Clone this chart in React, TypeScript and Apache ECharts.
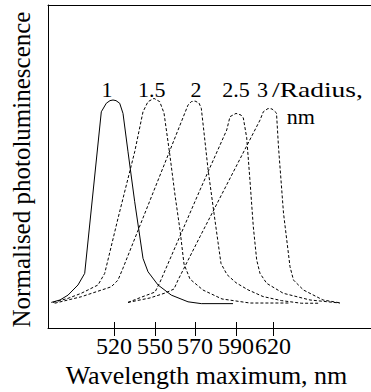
import React, { useEffect, useRef } from "react";
import * as echarts from "echarts";

// x positions are in axis position units (the wavelength axis is drawn with irregular tick spacing)
const tickPositions = [66, 107, 147, 188, 225];
const tickLabels = ["520", "550", "570", "590", "620"];

const radiusLabels = ["1", "1.5", "2", "2.5", "3"];

const curveR1 = [
  [3.3, 0.3], [12, 1.5], [20, 3.9], [30, 8.9], [36.7, 14.6], [53.3, 94.2],
  [58.3, 98.4], [62, 99.7], [65, 100], [68, 99.7], [71.7, 98.4], [75, 93.4],
  [80, 74.5], [86.7, 49.9], [95, 22.0], [100, 15.4], [110, 8.9], [123.3, 3.9],
  [140, 0.6], [153.3, -0.3], [185, -0.3],
];
const curveR15 = [
  [5, 0.3], [20, 2.3], [33.3, 4.8], [50, 8.9], [56.7, 14.6], [70, 41.7],
  [86.7, 74.5], [95, 94.2], [100, 99.2], [106, 100.8], [111.7, 99.2], [116, 93.6],
  [122, 72.4], [127, 53.2], [132, 36.0], [136, 19.2], [142, 11.8], [155, 6.4],
  [174, 2.0], [202, 0], [242, 0],
];
const curveR2 = [
  [6.7, -0.1], [33.3, 3.1], [63.3, 8.0], [70, 11.3], [75, 17.2], [140, 97.5],
  [143.3, 99.2], [147, 99.5], [151, 98.5], [153.3, 95.9], [156, 84], [160, 66],
  [165.5, 46], [170, 30], [173, 19.5], [179, 14], [188, 10], [200, 6.5],
  [215, 3.2], [233.3, 1.2], [253.3, -0.1], [272, -0.1],
];
const curveR25 = [
  [80, 0.3], [94, 3.0], [107, 5.4], [112, 10.3], [152, 55.7], [178.7, 85.2],
  [182, 91.8], [188, 93.4], [193, 92.6], [195.3, 91.2], [198.7, 81.4], [202, 60.1],
  [205.3, 37.6], [208.7, 21.2], [212, 14.6], [218.7, 9.7], [235.3, 4.8], [262, 1.5],
  [292, 0],
];
const curveR3 = [
  [80, 0.3], [102, 2.5], [117, 4.9], [126, 6.9], [130, 11.3], [152, 32.7],
  [212, 90.1], [215.3, 94.2], [220, 95.8], [224, 95.6], [228.5, 93.6], [230.5, 76.8],
  [235.5, 44.3], [242, 17.9], [245.5, 11.3], [255.5, 6.4], [275, 1.5], [293, 0],
];

const FONT = '"Liberation Serif", "Times New Roman", serif';

export default function App() {
  const ref = useRef<HTMLDivElement>(null);
  useEffect(() => {
    if (!ref.current) return;
    const chart = echarts.init(ref.current, null, { renderer: "svg" });
    const lineStyle = (dashed: boolean) => ({
      color: "#000",
      width: 1,
      type: dashed ? [3, 2] : "solid",
    });
    const mk = (name: string, data: number[][], dashed: boolean) => ({
      type: "line",
      name,
      data,
      showSymbol: false,
      symbol: "none",
      smooth: false,
      lineStyle: lineStyle(dashed),
      silent: true,
    });
    const fmt = (v: number) => {
      const i = tickPositions.findIndex((p) => Math.abs(p - v) < 0.01);
      return i >= 0 ? tickLabels[i] : "";
    };
    const axisLineStyle = { color: "#000", width: 1 };
    const labelXs = [107, 151.7, 196, 236, 262.5];
    chart.setOption({
      animation: false,
      backgroundColor: "#fff",
      grid: {
        left: 48,
        right: 0,
        top: 5,
        bottom: 64,
        containLabel: false,
        outerBoundsMode: "none",
      },
      xAxis: [
        {
          type: "value",
          position: "bottom",
          min: 0,
          max: 323,
          axisLine: { show: true, onZero: false, lineStyle: axisLineStyle },
          axisTick: {
            show: true,
            inside: false,
            length: 8,
            customValues: tickPositions,
            lineStyle: axisLineStyle,
          },
          axisLabel: {
            show: true,
            customValues: tickPositions,
            formatter: fmt,
            fontFamily: FONT,
            fontSize: 24,
            color: "#000",
            margin: 6,
          },
          splitLine: { show: false },
          name: "Wavelength maximum, nm",
          nameLocation: "middle",
          nameGap: 30,
          nameTextStyle: {
            fontFamily: FONT,
            fontSize: 26,
            color: "#000",
            padding: [0, 6, 0, 0],
          },
        },
        {
          type: "value",
          position: "bottom",
          min: 0,
          max: 323,
          axisLine: { show: false, onZero: false },
          axisTick: {
            show: true,
            inside: true,
            length: 6,
            customValues: tickPositions,
            lineStyle: axisLineStyle,
          },
          axisLabel: { show: false },
          splitLine: { show: false },
        },
        {
          type: "value",
          position: "top",
          min: 0,
          max: 323,
          axisLine: { show: true, onZero: false, lineStyle: axisLineStyle },
          axisTick: { show: false },
          axisLabel: { show: false },
          splitLine: { show: false },
        },
      ],
      yAxis: {
        type: "value",
        min: -12.3,
        max: 146.8,
        axisLine: { show: true, onZero: false, lineStyle: axisLineStyle },
        axisTick: { show: false },
        axisLabel: { show: false },
        splitLine: { show: false },
        name: "Normalised photoluminescence",
        nameLocation: "middle",
        nameGap: 14,
        nameTextStyle: {
          fontFamily: FONT,
          fontSize: 25,
          color: "#000",
          padding: [0, 6, 0, 0],
        },
      },
      series: [
        mk("1", curveR1, false),
        mk("1.5", curveR15, true),
        mk("2", curveR2, true),
        mk("2.5", curveR25, true),
        mk("3", curveR3, true),
      ],
      graphic: [
        ...radiusLabels.map((t, i) => ({
          type: "text",
          x: labelXs[i],
          y: 78,
          silent: true,
          style: {
            text: t,
            font: `22px ${FONT}`,
            fill: "#000",
            textAlign: "center",
            textVerticalAlign: "top",
          },
        })),
        {
          type: "text",
          x: 272,
          y: 78,
          scaleX: 1.25,
          silent: true,
          style: {
            text: "/Radius,",
            font: `22px ${FONT}`,
            fill: "#000",
            textAlign: "left",
            textVerticalAlign: "top",
          },
        },
        {
          type: "text",
          x: 286.7,
          y: 105,
          silent: true,
          style: {
            text: "nm",
            font: `22px ${FONT}`,
            fill: "#000",
            textAlign: "left",
            textVerticalAlign: "top",
          },
        },
      ],
    });
    return () => chart.dispose();
  }, []);
  return (
    <div
      ref={ref}
      style={{ position: "fixed", left: 0, top: 0, width: 371, height: 392 }}
    />
  );
}
